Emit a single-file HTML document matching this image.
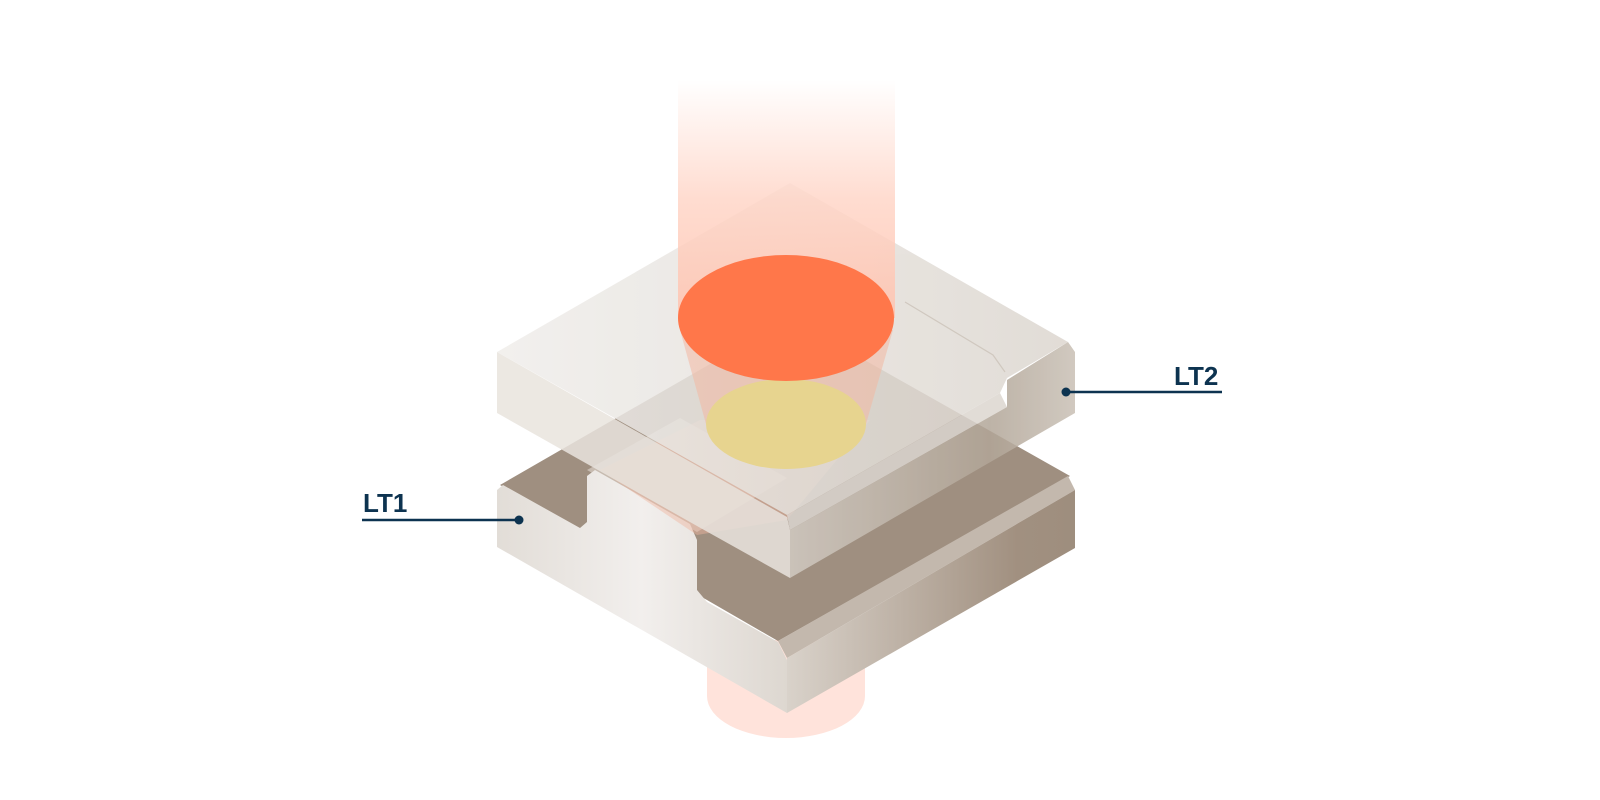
<!DOCTYPE html>
<html><head><meta charset="utf-8"><style>
html,body{margin:0;padding:0;background:#fff;width:1600px;height:800px;overflow:hidden}
svg{display:block}
</style></head><body>
<svg width="1600" height="800" viewBox="0 0 1600 800" xmlns="http://www.w3.org/2000/svg">
<defs>
<linearGradient id="beam" x1="0" y1="0" x2="0" y2="1">
<stop offset="0" stop-color="#ffffff"/><stop offset="0.5" stop-color="#ffd6c8"/><stop offset="1" stop-color="#ffc2ae"/></linearGradient>
<linearGradient id="lf" x1="0" y1="0" x2="1" y2="0">
<stop offset="0" stop-color="#e2ddd7"/><stop offset="0.5" stop-color="#f2efed"/><stop offset="1" stop-color="#ddd7d0"/></linearGradient>
<linearGradient id="rf" x1="0" y1="0" x2="1" y2="0">
<stop offset="0" stop-color="#d9d2ca"/><stop offset="0.8" stop-color="#a19080"/><stop offset="1" stop-color="#9e8e7e"/></linearGradient>
<linearGradient id="top" x1="0" y1="0" x2="1" y2="0">
<stop offset="0" stop-color="#f0eeeb"/><stop offset="1" stop-color="#ddd7d0"/></linearGradient>
<linearGradient id="step" x1="0" y1="0" x2="1" y2="0">
<stop offset="0" stop-color="#d2cbc3"/><stop offset="0.7" stop-color="#b2a698"/><stop offset="1" stop-color="#c9c0b5"/></linearGradient>
</defs>

<rect x="707" y="640" width="158" height="56" fill="#ffe3db"/>
<ellipse cx="786" cy="696" rx="79" ry="42" fill="#ffe3db"/>

<polygon points="500,485 790,318 1070,476 778,641 707,600" fill="#9f8f80"/>
<polygon points="587,470 680,418 787,478 697,532" fill="#c7bbb0"/>
<polygon points="778,641 1068,476 1075,490 787,658" fill="#c3b8ad"/>
<polygon points="787,658 1075,490 1075,548 787,713" fill="url(#rf)"/>
<polygon points="497,490 503,485 580,528 587,522 587,476 595,470 690,524 697,540 697,590 707,602 778,642 787,660 787,713 497,547" fill="url(#lf)"/>
<polygon points="600,470 700,420 870,420 787,520 697,535" fill="#f0b5a0" opacity="0.45"/>

<g opacity="0.85">
<polygon points="497,352 790,183 1068,342 1007,378 1000,393 787,515" fill="url(#top)"/>
<polygon points="497,352 787,517 790,530 790,578 697,526 497,413" fill="#e9e4de"/>
<polygon points="787,515 1000,393 1007,407 790,530" fill="#dcd6d0"/>
<polygon points="790,530 1007,407 1007,380 1068,342 1075,352 1075,413 790,578" fill="url(#step)"/>
</g>
<polyline points="905,302 993,355 1005,372" fill="none" stroke="#d0c8bf" stroke-width="1.2"/>

<rect x="678" y="80" width="217" height="238" fill="url(#beam)" opacity="0.85"/>
<polygon points="680,330 893,330 866,424 706,424" fill="#f3b8a3" opacity="0.55"/>
<ellipse cx="786" cy="424" rx="80" ry="45" fill="#e7d48f"/>
<ellipse cx="786" cy="318" rx="108" ry="63" fill="#ff774a"/>

<g fill="#0d3350" font-family="Liberation Sans, sans-serif" font-weight="bold" font-size="26">
<text x="1174" y="385">LT2</text>
<text x="363" y="512">LT1</text>
</g>
<line x1="1066" y1="392" x2="1222" y2="392" stroke="#0d3350" stroke-width="2.5"/>
<circle cx="1066" cy="392" r="4.5" fill="#0d3350"/>
<line x1="362" y1="520" x2="519" y2="520" stroke="#0d3350" stroke-width="2.5"/>
<circle cx="519" cy="520" r="4.5" fill="#0d3350"/>
</svg>
</body></html>
